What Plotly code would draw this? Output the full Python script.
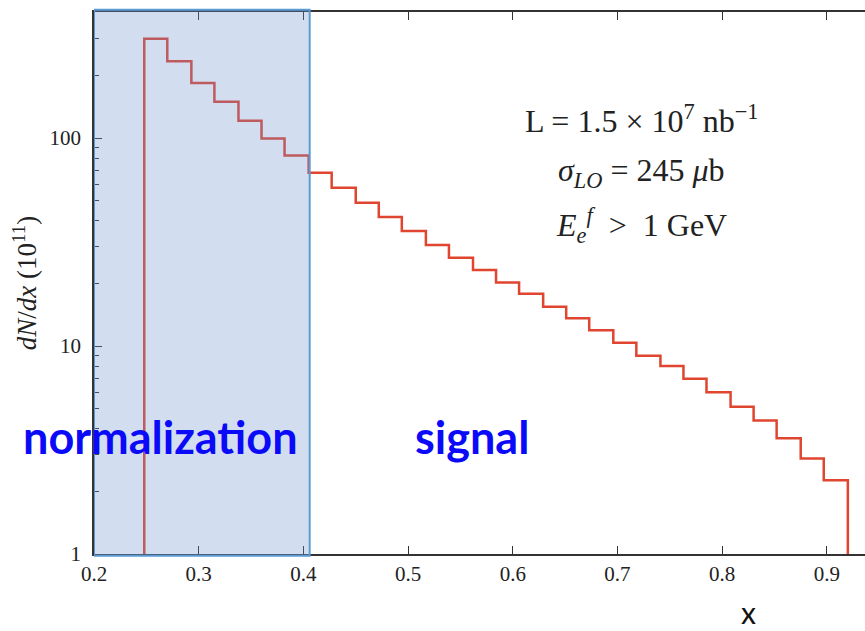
import plotly.graph_objects as go

# ---- data ----
bin_edges = [0.248, 0.270, 0.293, 0.315, 0.338, 0.360, 0.382, 0.405, 0.427, 0.450,
             0.472, 0.494, 0.517, 0.539, 0.562, 0.584, 0.606, 0.629, 0.651, 0.673,
             0.696, 0.718, 0.741, 0.763, 0.785, 0.808, 0.830, 0.852, 0.875, 0.897, 0.920]
dndx = [300, 234, 184, 149.5, 121, 99.6, 82.5, 68.1, 57.7, 48.9,
        41.7, 35.7, 30.6, 26.6, 23.2, 20.2, 17.85, 15.45, 13.6, 11.9,
        10.37, 8.98, 8.02, 6.96, 5.99, 5.11, 4.39, 3.60, 2.88, 2.26]
x_ticks = [0.2, 0.3, 0.4, 0.5, 0.6, 0.7, 0.8, 0.9]
y_ticks = [1, 10, 100]
y_minor = [2, 3, 4, 5, 6, 7, 8, 9, 20, 30, 40, 50, 60, 70, 80, 90, 200, 300]
norm_region = [0.2, 0.406]
floor_value = 1
info_lines = ["L = 1.5 × 10<sup>7</sup> nb<sup>−1</sup>",
              "<i>σ</i><sub><i>LO</i></sub> = 245 <i>μ</i>b",
              "<i>E</i><sub><i>e</i></sub><sup><i>f</i></sup>  >  1 GeV"]

# step outline of the histogram
xs = [bin_edges[0]] + bin_edges[:-1] + [bin_edges[-1], bin_edges[-1]]
ys = [floor_value] + dndx + [dndx[-1], floor_value]

fig = go.Figure()
fig.add_trace(go.Scatter(x=xs, y=ys, mode="lines", line=dict(color="#e0452f", width=2.5, shape="hv"),
                         hoverinfo="skip", showlegend=False))

serif = "Liberation Serif"
axcol = "#333333"
fig.update_layout(
    width=865, height=631,
    margin=dict(l=94, r=0, t=12, b=77),
    paper_bgcolor="white", plot_bgcolor="white",
    xaxis=dict(range=[0.2, 0.9364], tickvals=x_ticks, ticktext=[f"{v:.1f}" for v in x_ticks],
               ticks="inside", ticklen=8, tickwidth=1.3, tickcolor=axcol,
               showline=True, linecolor=axcol, linewidth=1.5, mirror="allticks",
               showgrid=False, zeroline=False, ticklabelstandoff=0,
               tickfont=dict(family=serif, size=21, color="#222")),
    yaxis=dict(type="log", range=[0, 2.606], tickvals=y_ticks, ticktext=[str(v) for v in y_ticks],
               ticks="inside", ticklen=8, tickwidth=1.3, tickcolor=axcol,
               minor=dict(tickvals=y_minor, ticks="inside", ticklen=5, tickwidth=1.2, tickcolor=axcol),
               showline=True, linecolor=axcol, linewidth=1.5, mirror=False,
               showgrid=False, zeroline=False, ticklabelstandoff=7,
               tickfont=dict(family=serif, size=21, color="#222"),
               title=dict(text="<i>dN</i>/<i>dx</i> (10<sup>11</sup>)", standoff=5,
                          font=dict(family=serif, size=27, color="#222"))),
)

fig.add_shape(type="rect", xref="x", yref="paper", x0=norm_region[0], x1=norm_region[1], y0=-0.003, y1=1.004,
              fillcolor="rgba(108,142,205,0.3)", line=dict(color="#5b9bd5", width=2), layer="above")

for i, t in enumerate(info_lines):
    fig.add_annotation(text=t, xref="paper", yref="paper", x=0.7095, y=0.802 - i * 0.0975,
                       showarrow=False, xanchor="center", yanchor="middle",
                       font=dict(family=serif, size=32, color="#222"))

fig.add_annotation(text="<b>normalization</b>", xref="paper", yref="paper", x=(160 - 94) / 771, y=(554 - 437) / 542,
                   showarrow=False, xanchor="center", yanchor="middle",
                   font=dict(family="Lato", size=45, color="#0a0af8"))
fig.add_annotation(text="<b>signal</b>", xref="paper", yref="paper", x=(472 - 94) / 771, y=(554 - 437) / 542,
                   showarrow=False, xanchor="center", yanchor="middle",
                   font=dict(family="Lato", size=45, color="#0a0af8"))
fig.add_annotation(text="x", xref="paper", yref="paper", x=(748 - 94) / 771, y=-(612 - 554) / 542,
                   showarrow=False, xanchor="center", yanchor="middle",
                   font=dict(family="Lato", size=30, color="#111"))

fig.write_html("out.html", config={"displayModeBar": False},
               post_script="document.body.style.margin='0';document.body.style.overflow='hidden';")
